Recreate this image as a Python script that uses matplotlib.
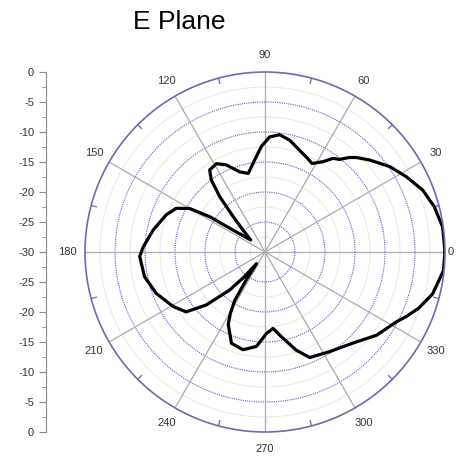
import numpy as np
import matplotlib
matplotlib.use("Agg")
import matplotlib.pyplot as plt

plt.rcParams['font.family'] = ['Liberation Sans', 'DejaVu Sans']

# pattern: angle (deg) and gain (dB)
angle_deg = [0, 8, 15, 21.4, 28, 34.4, 41.4, 46, 48.3, 51.2, 54, 57.3, 62, 66, 71.2, 77.6,
             82.9, 87.7, 92, 97.7, 102, 107.5, 114, 118.8, 124, 126.7, 129.3, 132, 135, 140,
             146, 147.4, 150, 153.8, 159.4, 168.9, 177.5, 182, 191.6, 200.8, 210.7, 217.2,
             222, 227, 230, 234, 236, 238, 240.5, 243, 249.8, 257.3, 264.8, 271, 276, 281,
             287.7, 293, 303, 314, 323.3, 332, 335.5, 340, 346, 354, 360]
gain_db = [0, -0.1, -0.8, -1.75, -3.3, -4.8, -6.8, -8.1, -8.9, -10.2, -10.7, -12.1, -13.3, -12.8, -12.1, -10.9,
           -10.3, -10.8, -12.4, -15.1, -16.6, -16.0, -14.1, -13.2, -13.5, -15.0, -18.1, -22.1, -24.8, -26.9,
           -22.9, -19.1, -15.5, -13.5, -12.4, -11.0, -9.7, -9.1, -9.5, -10.6, -12.2, -13.5,
           -16.8, -21.3, -24.5, -27.6, -24.4, -20.5, -18.3, -16.5, -13.8, -13.3, -14.2, -16.4, -17.2, -15.6,
           -12.8, -10.9, -10.2, -8.9, -6.8, -5.2, -4.1, -2.7, -1.2, -0.1, 0]

r_min, r_max = -30, 0
ring_major = [-25, -20, -15, -10, -5]
ring_minor = [-27.5, -22.5, -17.5, -12.5, -7.5, -2.5]
spokes = np.arange(0, 360, 30)
side_ticks = [0, -5, -10, -15, -20, -25, -30, -25, -20, -15, -10, -5, 0]

fig = plt.figure(figsize=(4.6, 4.57), dpi=100)
fig.text(0.39, 0.952, "E Plane", fontsize=19, ha="center", va="center")

ax = fig.add_axes([0.1848, 0.0547, 0.7826, 0.7877], projection="polar")
ax.set_ylim(r_min, r_max)
ax.grid(False)
ax.set_yticks([])
ax.set_xticks(np.deg2rad(spokes))
# the 0 label is drawn by hand so it stays inside the picture
ax.set_xticklabels([""] + [str(a) for a in spokes[1:]], fontsize=8, color="#333333")
ax.text(0, 0.5, str(spokes[0]), fontsize=8, color="#333333", ha="left", va="center")
ax.tick_params(axis="x", pad=2)
ax.spines["polar"].set_color("#6a6ab0")
ax.spines["polar"].set_linewidth(1.2)

th = np.linspace(0, 2 * np.pi, 400)
for r in ring_minor:
    ax.plot(th, np.full_like(th, r), color="#b8e0b8", lw=0.7, ls=(0, (1, 1)))
for r in ring_major:
    ax.plot(th, np.full_like(th, r), color="#5858d0", lw=0.8, ls=(0, (1, 1)))
for a in spokes:
    ax.plot([np.deg2rad(a)] * 2, [r_min, r_max], color="#aaaaaa", lw=0.9)
for a in range(15, 360, 30):
    ax.plot([np.deg2rad(a)] * 2, [-0.9, 0], color="#6a6ab0", lw=0.9)

ax.plot(np.deg2rad(angle_deg), gain_db, color="black", lw=2.3, solid_joinstyle="round")

# dB scale on the left
sax = fig.add_axes([0.1, 0.0547, 0.01, 0.7877])
sax.set_ylim(0, 60)
sax.set_xlim(0, 1)
sax.set_yticks(np.arange(0, 61, 5))
sax.set_yticklabels([str(v) for v in side_ticks[::-1]], fontsize=8, color="#333333")
sax.set_yticks(np.arange(2.5, 60, 5), minor=True)
sax.tick_params(axis="y", which="major", length=5, color="#888888")
sax.tick_params(axis="y", which="minor", length=3, color="#888888")
sax.set_xticks([])
for s in ["top", "right", "bottom"]:
    sax.spines[s].set_visible(False)
sax.spines["left"].set_color("#888888")
sax.patch.set_visible(False)

fig.savefig("out.png", dpi=100)
